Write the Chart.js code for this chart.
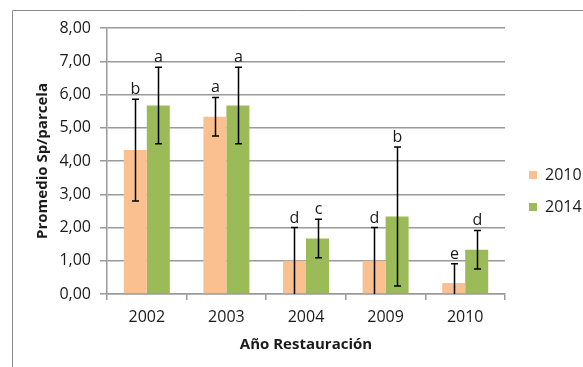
<!DOCTYPE html>
<html>
<head>
<meta charset="utf-8">
<script src="https://cdn.jsdelivr.net/npm/chart.js@4/dist/chart.umd.min.js"></script>
<style>
  html, body { margin: 0; padding: 0; background: #ffffff; }
  #wrap { width: 583px; height: 367px; }
</style>
</head>
<body>
<div id="wrap"><canvas id="graph1" width="583" height="367"></canvas></div>
<script>
// datos
var categorias = ['2002', '2003', '2004', '2009', '2010']
var series = ['2010', '2014']
var valores2010 = [4.33, 5.33, 1.00, 1.00, 0.33]
var valores2014 = [5.67, 5.67, 1.67, 2.33, 1.33]
var error2010 = [1.53, 0.58, 1.00, 1.00, 0.58]
var error2014 = [1.15, 1.15, 0.58, 2.09, 0.58]
var letras2010 = ['b', 'a', 'd', 'd', 'e']
var letras2014 = ['a', 'a', 'c', 'b', 'd']
var colores = ['#FAC090', '#9BBB59']

var fuente = '"Open Sans", "DejaVu Sans", sans-serif'
var gris = '#9a9a9a'
var texto = '#1a1a1a'

// marco exterior (solo arriba e izquierda se ven)
var marco = {
    id: 'marco',
    beforeDraw: function (chart) {
        var c = chart.ctx
        c.save()
        c.fillStyle = '#ffffff'
        c.fillRect(0, 0, chart.width, chart.height)
        c.strokeStyle = '#8a8a8a'
        c.lineWidth = 1
        c.beginPath()
        c.moveTo(12.5, chart.height)
        c.lineTo(12.5, 10.5)
        c.lineTo(chart.width, 10.5)
        c.stroke()
        c.restore()
    }
}

// barras de error + letras
var errores = {
    id: 'errores',
    afterDatasetsDraw: function (chart) {
        var c = chart.ctx
        var y = chart.scales.y
        var errs = [error2010, error2014]
        var letras = [letras2010, letras2014]
        c.save()
        c.strokeStyle = '#000000'
        c.lineWidth = 1.5
        c.font = '16px ' + fuente
        c.fillStyle = texto
        c.textAlign = 'center'
        c.textBaseline = 'alphabetic'
        chart.data.datasets.forEach(function (ds, i) {
            var meta = chart.getDatasetMeta(i)
            meta.data.forEach(function (bar, j) {
                var v = ds.data[j]
                var top = y.getPixelForValue(v + errs[i][j])
                var bot = y.getPixelForValue(Math.max(0, v - errs[i][j]))
                var x = Math.round(bar.x) + 0.5
                c.beginPath()
                c.moveTo(x, top)
                c.lineTo(x, bot)
                c.moveTo(x - 3.5, top)
                c.lineTo(x + 3.5, top)
                if (v - errs[i][j] > 0) {
                    c.moveTo(x - 3.5, bot)
                    c.lineTo(x + 3.5, bot)
                }
                c.stroke()
                c.fillText(letras[i][j], x, top - 5)
            })
        })
        c.restore()
    }
}

// leyenda a la derecha
var leyenda = {
    id: 'leyenda',
    afterDraw: function (chart) {
        var c = chart.ctx
        c.save()
        c.font = '16px ' + fuente
        c.textBaseline = 'middle'
        c.textAlign = 'left'
        chart.data.datasets.forEach(function (ds, i) {
            var cy = 175 + i * 32
            c.fillStyle = ds.backgroundColor
            c.fillRect(529, cy - 4, 8, 8)
            c.fillStyle = texto
            c.fillText(ds.label, 545, cy)
        })
        c.restore()
    }
}

var ctx = document.getElementById('graph1').getContext('2d')
var data = {
    labels: categorias,
    datasets: [
        {
            label: series[0],
            backgroundColor: colores[0],
            data: valores2010
        },
        {
            label: series[1],
            backgroundColor: colores[1],
            data: valores2014
        }
    ]
}

var options = {
    responsive: false,
    animation: false,
    layout: { padding: { left: 0, right: 78, top: 28, bottom: 0 } },
    datasets: { bar: { categoryPercentage: 0.578, barPercentage: 1.0 } },
    plugins: {
        legend: { display: false },
        tooltip: { enabled: false }
    },
    scales: {
        x: {
            offset: true,
            grid: { drawOnChartArea: false, drawTicks: true, tickLength: 6, color: gris, lineWidth: 1.5, offset: true },
            border: { color: gris, width: 1.5 },
            ticks: { color: texto, font: { family: fuente, size: 16 }, padding: 8 },
            title: { display: true, text: 'Año Restauración', color: texto, font: { family: fuente, size: 15, weight: 'bold' }, padding: { top: 0, bottom: 13 } },
            afterFit: function (s) { s.height = 73 }
        },
        y: {
            min: 0,
            max: 8,
            grid: { color: gris, lineWidth: 1.5, tickLength: 7 },
            border: { color: gris, width: 1.5 },
            ticks: {
                stepSize: 1,
                color: texto,
                font: { family: fuente, size: 16 },
                padding: 9,
                callback: function (v) { return v.toFixed(2).replace('.', ',') }
            },
            title: { display: true, text: 'Promedio Sp/parcela', color: texto, font: { family: fuente, size: 15, weight: 'bold' }, padding: { top: 34, bottom: 0 } },
            afterFit: function (s) { s.width = 107 }
        }
    }
}

var config = {
    type: 'bar',
    data: data,
    options: options,
    plugins: [marco, errores, leyenda]
}

var graph1 = new Chart(ctx, config)
</script>
</body>
</html>
